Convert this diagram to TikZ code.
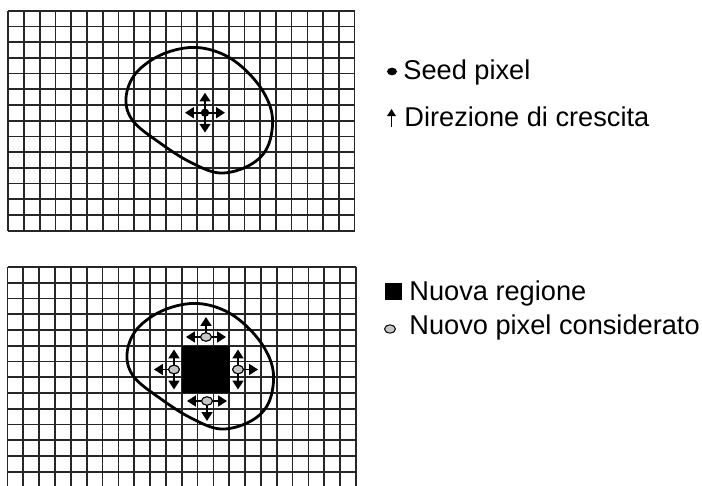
\documentclass[tikz,border=0pt]{standalone}
\usepackage{fontspec}
\setmainfont{Liberation Sans}
\usetikzlibrary{arrows.meta,shapes.geometric}
\begin{document}
\begin{tikzpicture}[x=0.5pt,y=-0.5pt,
  gridline/.style={line width=0.85pt, black!85},
  blob/.style={line width=1.4pt, black},
  growarrow/.style={line width=0.9pt, -{Triangle[length=4.4pt,width=5.4pt]}},
  seeddot/.style={circle, fill=black, inner sep=0pt, minimum size=4.2pt},
  newpix/.style={ellipse, draw=black, fill=gray!45, line width=0.5pt, inner sep=0pt, minimum width=5.4pt, minimum height=4.2pt},
  legendtext/.style={anchor=base west, inner sep=0pt, font=\fontsize{13.6}{16}\selectfont}]
\useasboundingbox (0,0) rectangle (702,486);
% ---------- top grid ----------
\foreach \i in {0,...,22} \draw[gridline] ({8.3+\i*15.74},10.7) -- ({8.3+\i*15.74},230.8);
\foreach \j in {0,...,14} \draw[gridline] (8.3,{10.7+\j*15.72}) -- (354.6,{10.7+\j*15.72});
% ---------- bottom grid ----------
\foreach \i in {0,...,22} \draw[gridline] ({7.5+\i*15.84},267) -- ({7.5+\i*15.84},486);
\foreach \j in {0,...,13} \draw[gridline] (7.5,{267+\j*15.75}) -- (356,{267+\j*15.75});
% ---------- blobs ----------
\def\blobpath{plot[smooth cycle, tension=0.6] coordinates {(126,98) (136,73) (163,54) (197,47.5) (230,58) (258,84) (272,114) (268,146) (250,165) (220,173) (190,162) (160,143) (133,121)}}
\draw[blob] \blobpath;
\begin{scope}[shift={(1,256)}]
\draw[blob] \blobpath;
\end{scope}
% ---------- top: seed pixel ----------
\node[seeddot] (seed) at (205,112.7) {};
\draw[growarrow] (seed.center) -- ++(-20,0);
\draw[growarrow] (seed.center) -- ++(20,0);
\draw[growarrow] (seed.center) -- ++(0,-20);
\draw[growarrow] (seed.center) -- ++(0,20);
% ---------- bottom: region and new pixels ----------
\fill[black] (182,346) rectangle (229.6,393);
\node[newpix] (ptop) at (206,337) {};
\node[newpix] (pleft) at (174,369.5) {};
\node[newpix] (pright) at (238,369.5) {};
\node[newpix] (pbot) at (207,401) {};
\draw[growarrow] (ptop.center) -- ++(-20,0);
\draw[growarrow] (ptop.center) -- ++(20,0);
\draw[growarrow] (ptop.center) -- ++(0,-20);
\draw[growarrow] (pleft.center) -- ++(-20,0);
\draw[growarrow] (pleft.center) -- ++(0,-20);
\draw[growarrow] (pleft.center) -- ++(0,20);
\draw[growarrow] (pright.center) -- ++(20,0);
\draw[growarrow] (pright.center) -- ++(0,-20);
\draw[growarrow] (pright.center) -- ++(0,20);
\draw[growarrow] (pbot.center) -- ++(-20,0);
\draw[growarrow] (pbot.center) -- ++(20,0);
\draw[growarrow] (pbot.center) -- ++(0,20);
\node[newpix] at (ptop) {};
\node[newpix] at (pleft) {};
\node[newpix] at (pright) {};
\node[newpix] at (pbot) {};
% ---------- legend ----------
\node[ellipse, fill=black, inner sep=0pt, minimum width=5pt, minimum height=3.8pt] (lseed) at (392,71.5) {};
\node[legendtext] (tseed) at (403,80) {Seed pixel};
\coordinate (arrbot) at (391.5,127);
\coordinate (arrtop) at (391.5,109);
\draw[line width=0.9pt, -{Triangle[length=3.6pt,width=4.4pt]}] (arrbot) -- (arrtop);
\node[legendtext] (tdir) at (404,127) {Direzione di crescita};
\node[fill=black, inner sep=0pt, minimum size=8.6pt] (lreg) at (393.5,291.5) {};
\node[legendtext] (treg) at (409,300.7) {Nuova regione};
\node[newpix] (lnew) at (390,329) {};
\node[legendtext] (tnew) at (409,335) {Nuovo pixel considerato};
\end{tikzpicture}
\end{document}
